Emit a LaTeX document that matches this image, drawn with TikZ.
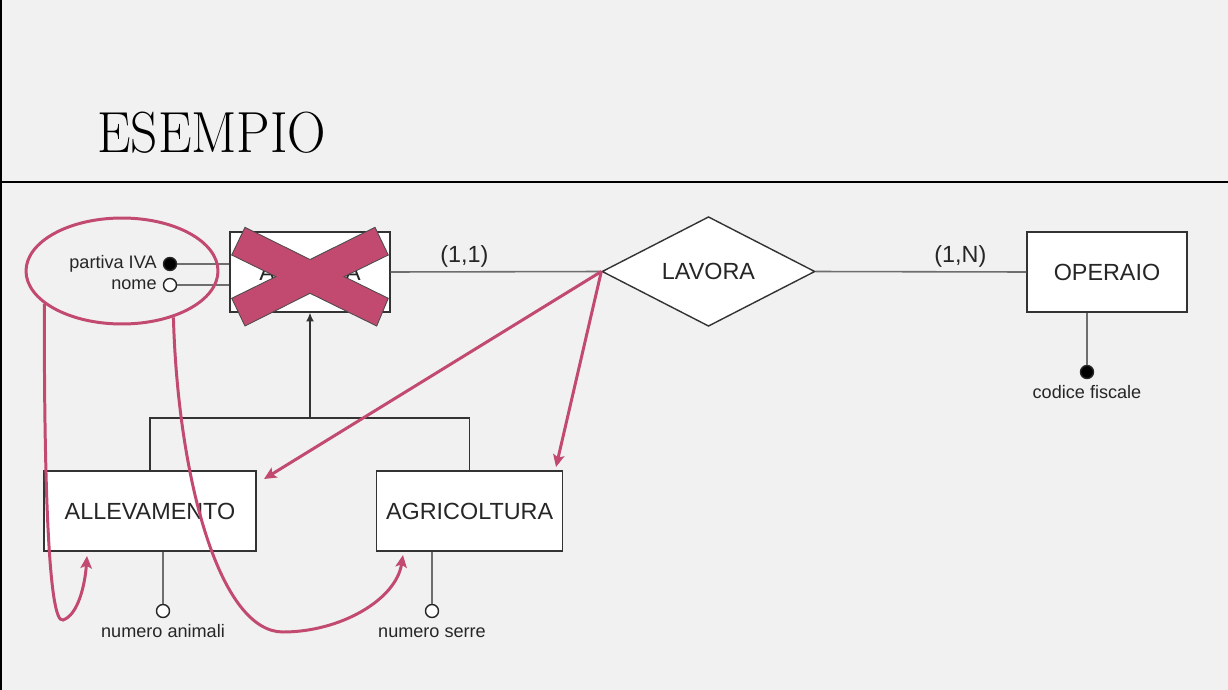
\documentclass[tikz,border=0pt]{standalone}
\usepackage{fontspec}
\usepackage{graphicx}
\newfontfamily\diagfont{Liberation Sans}
\usetikzlibrary{shapes.geometric,arrows.meta}
\definecolor{bgcol}{RGB}{240,241,240}
\definecolor{markpink}{RGB}{194,74,112}
\definecolor{linegray}{RGB}{110,110,110}

\begin{document}
\begin{tikzpicture}[x=0.02cm, y=-0.02cm,
	every node/.style={text=black!85},
	entity/.style={rectangle, draw=black!80, fill=white, line width=0.8pt,
				minimum height=1.6cm, inner sep=0,
				font=\diagfont\fontsize{13.3}{16}\selectfont},
	relation/.style={diamond, draw=black!80, fill=white, line width=0.8pt,
				minimum width=4.26cm, minimum height=2.12cm, inner sep=0,
				font=\diagfont\fontsize{13.3}{16}\selectfont},
	attr/.style={circle, draw=black!85, fill=white, line width=0.8pt,
				inner sep=0, minimum size=0.26cm, label distance=1pt},
	keyattr/.style={attr, fill=black},
	small/.style={font=\diagfont\fontsize{10.3}{12}\selectfont,
				text height=7.6pt, text depth=2.2pt},
	link/.style={draw=linegray, line width=0.9pt},
	pinkpen/.style={draw=markpink, line width=1.7pt,
				-{Stealth[length=7pt, width=6.5pt, inset=1.5pt]}}]
	\useasboundingbox (0,0) rectangle (1228,690);
	\fill[bgcol] (0,0) rectangle (1228,690);
	\draw[line width=1.1pt] (0.8,0) -- (0.8,690);
	\draw[line width=0.9pt] (0,182) -- (1228,182);
	\node[anchor=base west, inner sep=0, text=black,
		font=\fontsize{33}{33}\selectfont] (title) at (97,152)
		{\scalebox{0.92}[1]{ESEMPIO}};

	% entities and relationship
	\node[entity, minimum width=3.2cm] (azienda) at (310,272) {AZIENDA};
	\node[relation] (lavora) at (708.5,271.5) {LAVORA};
	\node[entity, minimum width=3.2cm] (operaio) at (1107,272) {OPERAIO};
	\node[entity, minimum width=4.24cm] (allevamento) at (150,511) {ALLEVAMENTO};
	\node[entity, minimum width=3.72cm] (agricoltura) at (469.6,511) {AGRICOLTURA};

	\draw[link] (azienda.east) -- node[above, pos=0.35, inner sep=2pt,
		font=\diagfont\fontsize{13.3}{16}\selectfont] {(1,1)} (lavora.west);
	\draw[link] (lavora.east) -- node[above, pos=0.687, inner sep=2pt,
		font=\diagfont\fontsize{13.3}{16}\selectfont] {(1,N)} (operaio.west);

	% attributes
	\node[keyattr, label={[small]left:partiva IVA}] (pIVA) at (170,264) {};
	\node[attr, label={[small]left:nome}] (nome) at (170,285) {};
	\node[keyattr, label={[small]below:codice fiscale}] (codFisc) at (1087,372) {};
	\node[attr, label={[small]below:numero animali}] (numAnim) at (163,611) {};
	\node[attr, label={[small]below:numero serre}] (numSerre) at (432,611) {};
	\draw[link] (pIVA.east) -- (pIVA -| azienda.west);
	\draw[link] (nome.east) -- (nome -| azienda.west);
	\draw[link] (operaio.south -| codFisc) -- (codFisc.north);
	\draw[link] (allevamento.south -| numAnim) -- (numAnim.north);
	\draw[link] (agricoltura.south -| numSerre) -- (numSerre.north);

	% generalization
	\coordinate (isa) at (310,418);
	\draw[draw=black!80, line width=0.8pt] (allevamento.north) |- (isa)
		-| (agricoltura.north);
	\draw[draw=black!80, line width=0.8pt, -{Latex[length=5pt, width=4.5pt]}]
		(isa) -- (azienda.south);

	% cross over the entity
	\filldraw[fill=markpink, draw=black!70, line width=0.5pt]
		(245,227.3) -- (310,259.5) -- (375,227.3) -- (388.3,255)
		-- (344.1,276.6) -- (388.3,298.3) -- (376.7,326) -- (310,293.3)
		-- (245,326) -- (231.7,298.3) -- (275.9,276.6) -- (231.7,255) -- cycle;

	% pink notes
	\node[draw=markpink, line width=1.7pt, ellipse, inner sep=0,
		minimum width=3.84cm, minimum height=2.12cm] (circ) at (122,271) {};
	\coordinate (allevTip) at (264,479);
	\coordinate (agricTip) at (556,467);
	\coordinate (loopA) at (63,620);
	\coordinate (tipA) at (87,556);
	\coordinate (loopB) at (283,632);
	\coordinate (tipB) at (403,555);
	\draw[pinkpen] (lavora.west) -- (allevTip);
	\draw[pinkpen] (lavora.west) -- (agricTip);
	\draw[pinkpen] (circ.203) .. controls (44,470) and (48,625) .. (loopA)
		.. controls (78,615) and (85,585) .. (tipA);
	\draw[pinkpen] (circ.318) .. controls (178,480) and (220,632) .. (loopB)
		.. controls (340,632) and (396,600) .. (tipB);
\end{tikzpicture}
\end{document}
